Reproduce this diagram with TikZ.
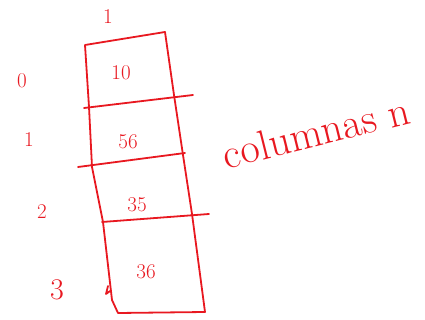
\documentclass[tikz,border=0pt]{standalone}
\usepackage{tikz}
\definecolor{inkred}{RGB}{232,24,32}
\begin{document}
\begin{tikzpicture}[x=1pt, y=-1pt,
        ink/.style={draw=inkred, line width=1.8pt, line cap=round, line join=round},
        hand/.style={text=inkred, font=\fontsize{21}{24}\selectfont, inner sep=0pt}
    ]
    \useasboundingbox (0,0) rectangle (425,320);

    % column outline
    \draw[ink] (85,45) -- (165,32) -- (174,95) -- (183,155) -- (192,214) -- (205,312)
        -- (118,313) -- (112,300) -- (103,222) -- (92,167) -- (89,107) -- cycle;
    % row separators
    \draw[ink] (84,108) -- (193,95);
    \draw[ink] (78,167) -- (185,153);
    \draw[ink] (102,222) -- (209,214);
    \draw[ink] (108,286) -- (106,294) -- (110,291);

    % column index
    \node[hand] (col) at (108,17) {1};

    % values
    \node[hand] (v0) at (121,73) {10};
    \node[hand] (v1) at (128,142) {56};
    \node[hand] (v2) at (137,205) {35};
    \node[hand] (v3) at (146,272) {36};

    % row indices
    \node[hand] (r0) at (22,81) {0};
    \node[hand] (r1) at (29,140) {1};
    \node[hand] (r2) at (42,212) {2};
    \node[hand, font=\fontsize{30}{34}\selectfont] (r3) at (57,290) {3};

    \node[hand, font=\fontsize{42}{46}\selectfont, rotate=14] (lbl) at (316,132) {columnas n};
\end{tikzpicture}
\end{document}
